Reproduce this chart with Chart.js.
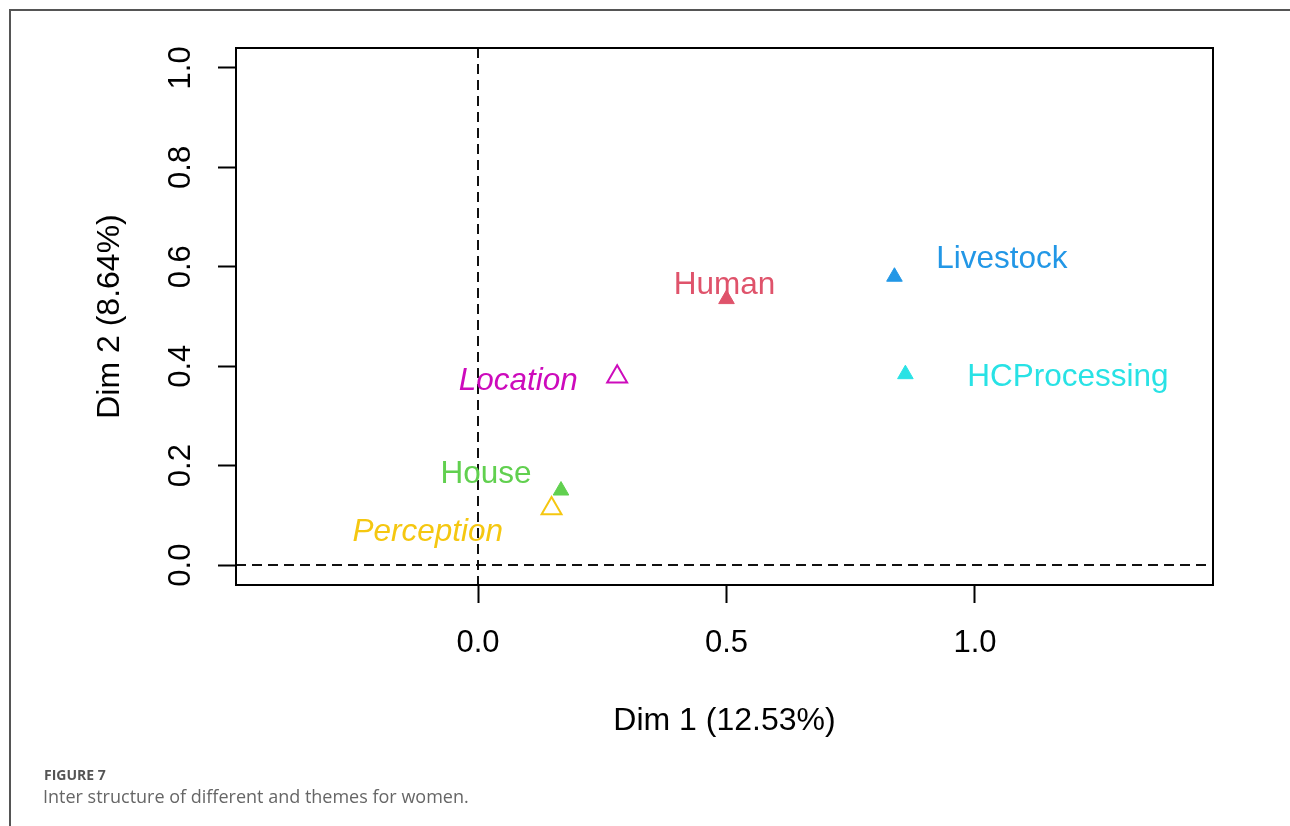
<!DOCTYPE html>
<html>
<head>
<meta charset="utf-8">
<script src="https://cdn.jsdelivr.net/npm/chart.js@4.4.1/dist/chart.umd.min.js"></script>
<style>
  html, body { margin: 0; padding: 0; background: #fff; }
  #wrap { position: relative; width: 1290px; height: 826px; overflow: hidden; }
  #frame { position: absolute; left: 9px; top: 9px; right: -2px; bottom: -2px;
           border-left: 2px solid #555; border-top: 2px solid #555; }
  #chart { position: absolute; left: 0; top: 0; }
  .cap1 { position: absolute; left: 44px; top: 765px; font: bold 14px "Open Sans", sans-serif; color: #555; }
  .cap2 { position: absolute; left: 43px; top: 784px; font: 18px "Open Sans", sans-serif; color: #666; }
</style>
</head>
<body>
<div id="wrap">
  <div id="frame"></div>
  <canvas id="chart" width="1290" height="826"></canvas>
  <div class="cap1">FIGURE 7</div>
  <div class="cap2">Inter structure of different and themes for women.</div>
</div>
<script>
// categories and coordinates (Dim 1, Dim 2)
const categories = ['Livestock', 'HCProcessing', 'Human', 'Location', 'House', 'Perception'];
const dim1 = [0.838, 0.860, 0.500, 0.280, 0.167, 0.148];
const dim2 = [0.580, 0.384, 0.535, 0.379, 0.150, 0.114];
// where each text label sits (data units)
const labelDim1 = [1.054, 1.187, 0.496, 0.081, 0.016, -0.101];
const labelDim2 = [0.616, 0.378, 0.562, 0.370, 0.183, 0.066];
// filled triangles are active categories, open ones supplementary
const supplementary = ['Location', 'Perception'];
const colors = ['#2297E6', '#28E2E5', '#DF536B', '#CD0BBC', '#61D04F', '#F5C710'];

const xTicks = [0, 0.5, 1.0];
const yTicks = [0, 0.2, 0.4, 0.6, 0.8, 1.0];

const FONT = '"Liberation Sans", Arial, sans-serif';

const isOpen = categories.map(c => supplementary.includes(c));

const extras = {
  id: 'extras',
  afterDraw(chart) {
    const {ctx, chartArea: a, scales: {x, y}} = chart;
    ctx.save();
    // dashed reference lines
    ctx.strokeStyle = '#111';
    ctx.lineWidth = 2;
    ctx.setLineDash([10, 6]);
    ctx.beginPath();
    const x0 = Math.round(x.getPixelForValue(0));
    const y0 = Math.round(y.getPixelForValue(0));
    ctx.moveTo(x0, a.top); ctx.lineTo(x0, a.bottom);
    ctx.moveTo(a.left, y0); ctx.lineTo(a.right, y0);
    ctx.stroke();
    ctx.setLineDash([]);
    // plot box
    ctx.strokeStyle = '#000';
    ctx.strokeRect(a.left, a.top, a.right - a.left, a.bottom - a.top);
    // y tick labels, rotated like R
    ctx.fillStyle = '#000';
    ctx.font = '31px ' + FONT;
    ctx.textAlign = 'center';
    ctx.textBaseline = 'middle';
    yTicks.forEach(v => {
      ctx.save();
      ctx.translate(181, y.getPixelForValue(v));
      ctx.rotate(-Math.PI / 2);
      ctx.fillText(v.toFixed(1), 0, 0);
      ctx.restore();
    });
    // point labels
    categories.forEach((c, i) => {
      ctx.fillStyle = colors[i];
      ctx.font = (isOpen[i] ? 'italic ' : '') + '31.5px ' + FONT;
      ctx.fillText(c, x.getPixelForValue(labelDim1[i]), y.getPixelForValue(labelDim2[i]));
    });
    ctx.restore();
  }
};

new Chart(document.getElementById('chart'), {
  type: 'scatter',
  data: {
    datasets: [{
      data: categories.map((c, i) => ({x: dim1[i], y: dim2[i]})),
      pointStyle: 'triangle',
      pointRadius: isOpen.map(o => o ? 11.5 : 9),
      backgroundColor: colors.map((col, i) => isOpen[i] ? 'rgba(0,0,0,0)' : col),
      borderColor: colors,
      borderWidth: isOpen.map(o => o ? 2 : 1)
    }]
  },
  options: {
    responsive: false,
    animation: false,
    layout: { padding: { left: 0, top: 48, right: 77, bottom: 0 } },
    plugins: { legend: { display: false }, tooltip: { enabled: false } },
    scales: {
      x: {
        type: 'linear', min: -0.487, max: 1.479,
        afterBuildTicks: s => { s.ticks = xTicks.map(v => ({ value: v })); },
        afterFit: s => { s.height = 826 - 585; },
        grid: { drawOnChartArea: false, tickLength: 18, tickWidth: 2, tickColor: '#000' },
        border: { display: false },
        ticks: { color: '#000', font: { size: 31, family: FONT }, padding: 22, maxRotation: 0, autoSkip: false,
                 callback: v => Number(v).toFixed(1) },
        title: { display: true, text: 'Dim 1 (12.53%)', color: '#000', font: { size: 32, family: FONT },
                 padding: { top: 0, bottom: 86 } }
      },
      y: {
        type: 'linear', min: -0.04, max: 1.04,
        afterBuildTicks: s => { s.ticks = yTicks.map(v => ({ value: v })); },
        afterFit: s => { s.width = 236; },
        grid: { drawOnChartArea: false, tickLength: 18, tickWidth: 2, tickColor: '#000' },
        border: { display: false },
        ticks: { display: false },
        title: { display: true, text: 'Dim 2 (8.64%)', color: '#000', font: { size: 32, family: FONT },
                 padding: { top: 91, bottom: 0 } }
      }
    }
  },
  plugins: [extras]
});
</script>
</body>
</html>
